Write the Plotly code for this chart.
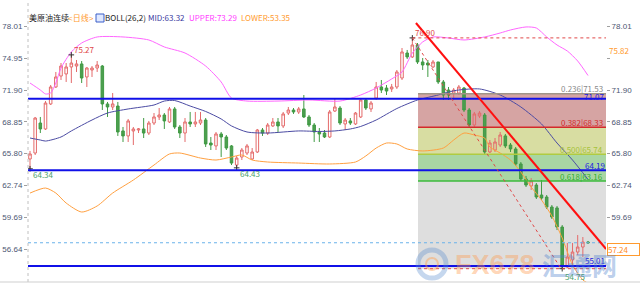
import plotly.graph_objects as go

# ---------------- data ----------------
open_ = [65.28, 65.85, 68.73, 68.16, 70.56, 72.19, 73.24, 73.44, 74.11, 74.20,
         74.40, 73.15, 73.82, 74.01, 74.20, 70.56, 70.27, 70.36, 67.97, 67.49,
         67.97, 68.06, 68.16, 67.77, 68.73, 69.31, 69.50, 68.83, 70.08, 68.35,
         67.77, 68.83, 68.64, 68.73, 69.02, 66.81, 66.53, 67.68, 67.39, 66.53,
         64.70, 65.47, 65.85, 65.28, 65.95, 68.06, 67.77, 68.45, 68.83, 68.45,
         69.69, 69.98, 69.79, 70.08, 69.31, 68.54, 67.87, 67.77, 67.39, 69.88,
         70.17, 68.64, 68.93, 68.64, 69.31, 70.94, 70.08, 71.13, 72.19, 72.09,
         72.00, 72.19, 73.05, 75.45, 75.07, 76.22, 74.59, 74.49, 74.11, 74.59,
         72.67, 71.90, 71.61, 71.61, 72.09, 69.98, 68.54, 69.40, 69.50, 65.95,
         66.14, 66.62, 67.49, 66.62, 66.24, 64.80, 63.36, 62.69, 62.78, 61.82,
         61.63, 60.67, 60.58, 58.75, 54.91, 55.59, 56.35, 56.83, 57.31]
high = [66.05, 69.31, 69.31, 70.84, 72.38, 73.63, 74.49, 74.49, 75.27, 74.78,
        74.68, 74.11, 74.20, 74.68, 74.30, 70.75, 71.61, 70.75, 68.35, 69.12,
        68.35, 68.25, 69.21, 68.93, 69.69, 70.17, 69.69, 70.27, 70.27, 68.54,
        69.21, 69.79, 69.79, 69.79, 69.21, 67.39, 67.87, 67.87, 67.58, 66.62,
        65.57, 66.33, 66.72, 66.33, 68.16, 68.25, 68.73, 69.21, 69.21, 69.79,
        70.27, 70.17, 70.27, 71.42, 69.50, 68.73, 68.25, 68.06, 69.98, 71.13,
        70.36, 69.21, 69.21, 69.79, 71.13, 71.13, 70.84, 72.67, 72.86, 72.38,
        72.48, 73.82, 75.93, 75.74, 76.90, 76.41, 74.97, 74.78, 74.78, 74.59,
        72.86, 72.19, 72.09, 72.38, 72.19, 70.17, 69.79, 69.88, 69.69, 67.10,
        67.29, 67.87, 67.68, 66.81, 66.43, 64.99, 63.65, 63.45, 62.97, 63.26,
        61.82, 60.86, 60.77, 58.94, 57.22, 57.22, 57.98, 57.79, 57.41]
low = [64.34, 65.66, 67.77, 68.06, 70.46, 72.09, 72.86, 72.67, 72.57, 73.63,
       72.57, 72.19, 73.15, 73.63, 69.98, 69.31, 69.98, 67.49, 66.91, 66.91,
       66.62, 67.77, 67.29, 67.58, 68.54, 69.02, 68.16, 68.73, 68.16, 67.29,
       66.91, 68.35, 68.35, 68.54, 66.43, 66.14, 66.14, 65.47, 66.14, 64.70,
       64.43, 65.18, 65.66, 65.18, 65.85, 67.49, 67.58, 68.35, 67.77, 68.25,
       69.50, 69.60, 69.60, 69.21, 68.35, 66.91, 66.91, 67.29, 67.29, 69.79,
       68.54, 68.06, 68.54, 68.54, 69.21, 69.98, 69.79, 70.94, 71.61, 71.42,
       71.71, 72.00, 72.86, 74.87, 74.97, 74.40, 73.82, 73.15, 74.01, 72.48,
       70.94, 70.94, 70.94, 71.42, 69.79, 68.35, 68.35, 69.21, 65.76, 65.85,
       65.95, 66.43, 66.33, 65.95, 64.61, 63.17, 62.59, 62.30, 61.44, 61.34,
       60.48, 59.52, 58.46, 54.75, 54.80, 55.11, 56.07, 55.87, 57.12]
close = [65.76, 69.21, 68.16, 70.65, 72.19, 73.15, 74.20, 74.11, 74.49, 74.40,
         73.05, 74.01, 74.01, 74.30, 70.56, 70.27, 70.56, 67.87, 67.49, 68.93,
         68.16, 68.16, 67.77, 68.73, 69.31, 69.50, 68.93, 70.08, 68.35, 67.77,
         68.83, 68.64, 68.83, 69.02, 66.72, 66.62, 67.68, 67.39, 66.33, 64.89,
         65.37, 66.14, 66.53, 65.95, 68.06, 67.77, 68.54, 68.83, 68.45, 69.60,
         69.98, 69.79, 70.08, 69.31, 68.54, 67.87, 67.68, 67.39, 69.79, 70.27,
         68.73, 69.02, 68.73, 69.69, 70.94, 70.17, 70.65, 72.19, 71.90, 71.80,
         72.19, 73.63, 75.55, 75.07, 76.22, 74.59, 74.30, 74.30, 74.59, 72.67,
         71.42, 71.42, 71.90, 72.19, 69.98, 68.54, 69.60, 69.69, 65.95, 66.81,
         66.91, 67.58, 66.53, 66.24, 64.80, 63.36, 62.78, 63.17, 61.63, 61.53,
         60.67, 59.71, 58.75, 55.01, 55.87, 56.35, 56.83, 57.31, 57.24]
bars = list(range(len(close)))

# Bollinger bands (26,2) sampled at bar indices
upper_idx = [0, 2, 3, 4, 5, 6, 8, 10, 13, 18, 23, 26, 30, 34, 37, 39, 42, 48, 54, 60,
             64, 67, 70, 72, 74, 76, 78, 81, 84, 88, 91, 93, 96, 98, 100, 102, 104, 106, 108]
upper_val = [72.57, 71.90, 71.52, 71.61, 72.57, 74.01, 75.55, 76.41, 76.99, 76.99,
             76.70, 76.03, 75.45, 74.20, 72.67, 71.13, 70.84, 70.84, 70.94, 70.84,
             71.42, 72.09, 72.96, 73.63, 75.45, 76.51, 76.99, 76.89, 76.70, 76.99,
             77.37, 77.66, 77.95, 77.85, 76.99, 76.22, 75.64, 74.68, 73.29]
mid_idx = [0, 2, 3, 6, 8, 12, 15, 19, 24, 26, 28, 31, 34, 37, 39, 42, 46, 52, 56, 59,
           62, 64, 67, 71, 75, 79, 81, 83, 87, 91, 95, 99, 102, 105, 108]
mid_val = [67.29, 67.10, 67.00, 67.39, 67.97, 69.02, 69.69, 70.08, 70.46, 70.84,
           70.89, 70.36, 69.84, 69.12, 68.45, 67.87, 67.77, 67.97, 67.92, 67.97,
           68.16, 68.40, 69.02, 70.12, 70.94, 71.42, 71.71, 71.90, 72.00, 71.42,
           70.27, 68.64, 66.81, 65.18, 63.32]
lower_idx = [0, 3, 5, 7, 10, 13, 16, 20, 24, 27, 29, 33, 36, 39, 41, 43, 46, 52, 58, 63,
             65, 67, 69, 71, 73, 76, 80, 82, 84, 86, 88, 89, 91, 93, 95, 97, 99, 101,
             103, 105, 107, 108]
lower_val = [62.01, 62.49, 62.01, 61.05, 60.19, 60.77, 62.01, 63.26, 64.70, 65.76,
             65.85, 65.37, 65.18, 65.47, 65.66, 65.18, 64.99, 64.89, 64.80, 64.99,
             65.57, 66.33, 66.81, 66.72, 66.24, 66.05, 66.33, 67.10, 67.77, 67.58,
             67.29, 66.43, 65.85, 65.18, 64.03, 62.59, 61.34, 59.81, 57.70, 55.11,
             53.67, 53.35]

yticks = [56.64, 59.69, 62.74, 65.80, 68.85, 71.90, 74.95, 78.01]
right_hidden = [56.64, 74.95]   # covered by price labels on the right side
fib_ratios = ["0.236", "0.382", "0.500", "0.618"]
fib_levels = [71.53, 68.33, 65.74, 63.16]
fib_bottom = 54.75
fib_start_bar = 75.1
support_lines = [71.07, 64.19, 55.01]
last_price = 57.24
peak_bar, peak_val = 74, 76.90
trend_start = (74.7, 78.33)
trend_end = (111.5, 56.64)
drop_end = (102.6, 54.90)
marks_hi = [(8, 75.27), (74, 76.90)]
marks_lo = [(0, 64.34), (40, 64.43), (103, 54.75)]
side_label = 75.82

# ---------------- layout constants ----------------
W, H = 640, 300
ML, MR, MT, MB = 28, 34, 0, 18
PW, PH = W - ML - MR, H - MT - MB
YR = [53.473, 80.537]
XR = [-0.387, 111.48]

def px(x):  # pixel x -> paper
    return (x - ML) / PW

def py(y):  # pixel y -> paper
    return 1 - (y - MT) / PH

fig = go.Figure()

# Bollinger bands
fig.add_trace(go.Scatter(x=upper_idx, y=upper_val, mode="lines",
                         line=dict(color="#ff66ff", width=1, shape="spline", smoothing=0.7),
                         hoverinfo="skip"))
fig.add_trace(go.Scatter(x=mid_idx, y=mid_val, mode="lines",
                         line=dict(color="#4b4ba3", width=1, shape="spline", smoothing=0.7),
                         hoverinfo="skip"))
fig.add_trace(go.Scatter(x=lower_idx, y=lower_val, mode="lines",
                         line=dict(color="#ffa040", width=1, shape="spline", smoothing=0.7),
                         hoverinfo="skip"))

# Candles
fig.add_trace(go.Candlestick(
    x=bars, open=open_, high=high, low=low, close=close,
    increasing=dict(line=dict(color="#e46a6a", width=1), fillcolor="rgba(255,255,255,0)"),
    decreasing=dict(line=dict(color="#3f9a43", width=1), fillcolor="#4d9e50"),
    whiskerwidth=0, hoverinfo="skip"))

# extreme markers
fig.add_trace(go.Scatter(x=[m[0] for m in marks_hi + marks_lo],
                         y=[m[1] for m in marks_hi + marks_lo], mode="markers",
                         marker=dict(symbol="cross-thin", size=4,
                                     line=dict(color="#333", width=1)),
                         hoverinfo="skip"))

# dummy trace for right axis
fig.add_trace(go.Scatter(x=[XR[0]], y=[YR[0]], yaxis="y2", mode="markers",
                         marker=dict(opacity=0), hoverinfo="skip"))

shapes = []
# Fibonacci bands
band_cols = ["#d6a4a3", "#d8dda2", "#a9d6a3", "#dedede"]
edges = fib_levels + [fib_bottom]
for i in range(4):
    shapes.append(dict(type="rect", xref="x", yref="y", x0=fib_start_bar, x1=XR[1],
                       y0=edges[i + 1], y1=edges[i], fillcolor=band_cols[i],
                       line=dict(width=0), layer="below"))
fib_cols = ["#a09488", "#d42a2a", "#b0cc40", "#3cba3c"]
for lv, c in zip(fib_levels, fib_cols):
    shapes.append(dict(type="line", xref="x", yref="y", x0=fib_start_bar, x1=XR[1],
                       y0=lv, y1=lv, line=dict(color=c, width=1.5), layer="above"))
shapes.append(dict(type="line", xref="x", yref="y", x0=fib_start_bar, x1=XR[1],
                   y0=fib_bottom, y1=fib_bottom,
                   line=dict(color="#e04848", width=1, dash="dot")))
# support lines
for lv in support_lines:
    shapes.append(dict(type="line", xref="x", yref="y", x0=XR[0], x1=XR[1],
                       y0=lv, y1=lv, line=dict(color="#1010e8", width=2)))
# last price line
shapes.append(dict(type="line", xref="x", yref="y", x0=XR[0], x1=XR[1],
                   y0=last_price, y1=last_price,
                   line=dict(color="#6ab2ea", width=1, dash="dot")))
# peak horizontal
shapes.append(dict(type="line", xref="x", yref="y", x0=peak_bar, x1=XR[1],
                   y0=peak_val, y1=peak_val, line=dict(color="#e04848", width=1, dash="dot")))
# drop diagonal
shapes.append(dict(type="line", xref="x", yref="y", x0=peak_bar, x1=drop_end[0],
                   y0=peak_val, y1=drop_end[1], line=dict(color="#e04848", width=1, dash="dot")))
# trendline
shapes.append(dict(type="line", xref="x", yref="y", x0=trend_start[0], x1=trend_end[0],
                   y0=trend_start[1], y1=trend_end[1], line=dict(color="#ff1010", width=2)))
# left dotted border and bottom separator
shapes.append(dict(type="line", xref="paper", yref="paper", x0=0, x1=0, y0=0, y1=1,
                   line=dict(color="#c0c0c0", width=1, dash="dot")))
shapes.append(dict(type="line", xref="paper", yref="paper", x0=px(0), x1=px(640),
                   y0=0, y1=0, line=dict(color="#cfcfcf", width=1)))
# title icon
shapes.append(dict(type="rect", xref="paper", yref="paper", x0=px(96), x1=px(104),
                   y0=py(22), y1=py(14), line=dict(color="#3a5ec8", width=1),
                   fillcolor="#dfe8ff"))
# watermark logo
shapes.append(dict(type="circle", xref="paper", yref="paper", x0=px(418), x1=px(446),
                   y0=py(278), y1=py(250), line=dict(color="rgba(90,140,205,0.35)", width=5)))
shapes.append(dict(type="circle", xref="paper", yref="paper", x0=px(426), x1=px(438),
                   y0=py(270), y1=py(258), line=dict(color="rgba(255,160,80,0.45)", width=2)))

ann = []
FONT = "Noto Sans CJK SC, Liberation Sans, Arial"
def A(text, x, y, color, size=8, xanchor="left", yanchor="middle", xref="paper",
      yref="paper", xshift=0, yshift=0, **kw):
    ann.append(dict(text=text, x=x, y=y, xref=xref, yref=yref, xanchor=xanchor,
                    yanchor=yanchor, showarrow=False, xshift=xshift, yshift=yshift,
                    font=dict(family=kw.pop("family", FONT), size=size, color=color),
                    borderpad=0, **kw))

# title
ty = py(18)
A("美原油连续", px(28), ty, "#1a1a1a", 8)
A("&lt;日线&gt;", px(67), ty, "#ff9a2e", 8, family="Liberation Sans, Noto Sans CJK SC")
A("BOLL(26,2)", px(104), ty, "#1a1a1a", 8)
A("MID:63.32", px(147), ty, "#3a3aa0", 8)
A("UPPER:73.29", px(188), ty, "#ff40ff", 8)
A("LOWER:53.35", px(240), ty, "#ff9a2e", 8)

# fib labels
for r, lv, c in zip(fib_ratios, fib_levels, ["#8a8a8a", "#d42a2a", "#a6c23a", "#2fae2f"]):
    A(f"{r}|{lv:.2f}", px(604), lv, c, 8, xanchor="right", yref="y", yshift=5)
# support labels
for lv, ys in zip(support_lines, [2, 5, 5]):
    A(f"{lv:.2f}", 1.0, lv, "#1a1ae0", 8, xanchor="right", yref="y", yshift=ys)
# extreme labels
A(f"{marks_hi[0][1]:.2f}", marks_hi[0][0], marks_hi[0][1], "#e04848", 8, xref="x", yref="y",
  xshift=2, yshift=5)
A(f"{marks_hi[1][1]:.2f}", marks_hi[1][0], marks_hi[1][1], "#e04848", 8, xref="x", yref="y",
  xshift=2, yshift=5)
for (b, v), ys in zip(marks_lo, [-6, -6, -8]):
    A(f"{v:.2f}", b, v, "#4aa06c", 8, xref="x", yref="y", xshift=2, yshift=ys)
# right-side labels
A(f"{last_price:.2f}", px(607), last_price, "#ff8a1e", 8, yref="y", yanchor="top",
  bgcolor="white", bordercolor="#ff9a2e", borderwidth=1, width=31, align="left")
A(f"{side_label:.2f}", px(608), side_label, "#ff9a2e", 8, yref="y", bgcolor="white",
  yshift=-1)
# watermark
A("<b>FX678</b>", px(495), py(265), "rgba(255,150,70,0.40)", 27, xanchor="center",
  family="Liberation Sans Narrow, Liberation Sans, Arial")
A("<b>汇通网</b>", px(579), py(264), "rgba(80,130,205,0.40)", 25, xanchor="center",
  family="Noto Sans CJK SC")

tickfont = dict(family="Liberation Sans, Arial", size=8, color="#4c5672")
axis_common = dict(range=YR, tickvals=yticks, showgrid=False, zeroline=False,
                   ticks="outside", ticklen=3, tickcolor="#a0a0a0", tickfont=tickfont,
                   showline=False, fixedrange=True)

fig.update_layout(
    width=W, height=H, margin=dict(l=ML, r=MR, t=MT, b=MB),
    paper_bgcolor="white", plot_bgcolor="white", showlegend=False,
    xaxis=dict(range=XR, visible=False, rangeslider=dict(visible=False), fixedrange=True),
    yaxis=dict(ticktext=[f"{v:.2f}" for v in yticks], **axis_common),
    yaxis2=dict(overlaying="y", side="right",
                ticktext=["" if v in right_hidden else f"{v:.2f}" for v in yticks],
                **axis_common),
    shapes=shapes, annotations=ann,
)
fig.write_html("out.html")
